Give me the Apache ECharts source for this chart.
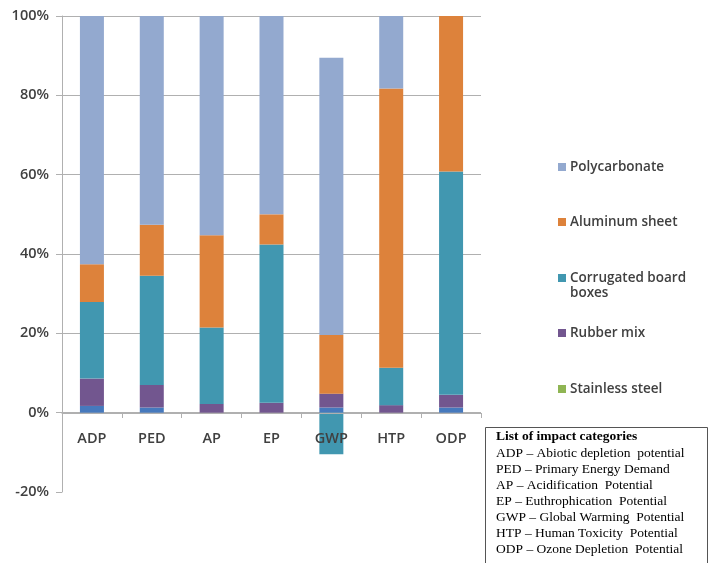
<!DOCTYPE html>
<html><head><meta charset="utf-8">
<script src="https://cdn.jsdelivr.net/npm/echarts@6/dist/echarts.min.js"></script>
<style>html,body{margin:0;padding:0;background:#fff}#c{width:709px;height:563px}</style>
</head><body><div id="c"></div>
<script>
const categories = ['ADP','PED','AP','EP','GWP','HTP','ODP'];
const other = [1.7, 1.3, 0, 0, 1.3, 0, 1.3];
const stainless = [0, 0, 0, 0, 0, 0, 0];
const rubber = [6.9, 5.7, 2.2, 2.5, 3.5, 1.9, 3.2];
const corrugated = [19.3, 27.5, 19.3, 39.9, -10.5, 9.4, 56.3];
const aluminum = [9.5, 12.9, 23.2, 7.6, 14.8, 70.4, 39.2];
const polycarbonate = [62.6, 52.6, 55.3, 50.0, 69.9, 18.3, 0];
const yTicks = [-20, 0, 20, 40, 60, 80, 100];
const listTitle = 'List of impact categories';
const listLines = [
  'ADP \u2013 Abiotic depletion  potential',
  'PED \u2013 Primary Energy Demand',
  'AP \u2013 Acidification  Potential',
  'EP \u2013 Euthrophication  Potential',
  'GWP \u2013 Global Warming  Potential',
  'HTP \u2013 Human Toxicity  Potential',
  'ODP \u2013 Ozone Depletion  Potential'
];

const colors = {
  Other: '#4679bd',
  'Stainless steel': '#8fb553',
  'Rubber mix': '#72568f',
  'Corrugated board boxes': '#4197b0',
  'Aluminum sheet': '#dd823b',
  'Polycarbonate': '#93a9cf'
};
const font = '"Open Sans", sans-serif';
const txtColor = '#404040';

function bar(name, data) {
  return {name, type: 'bar', stack: 'total', data, barWidth: 24,
    itemStyle: {color: colors[name]}, emphasis: {disabled: true}};
}

const legendNames = ['Polycarbonate','Aluminum sheet','Corrugated board boxes','Rubber mix','Stainless steel'];
const legendTops = [155, 210, 266, 321, 377];
const legends = legendNames.map((n, i) => ({
  data: [n], left: 553, top: legendTops[i], orient: 'vertical',
  itemWidth: 8, itemHeight: 8, itemGap: 0, icon: 'rect', selectedMode: false,
  formatter: n === 'Corrugated board boxes' ? () => 'Corrugated board' : undefined,
  textStyle: {fontFamily: font, fontSize: 13.5, color: txtColor, fontWeight: 600, padding: [0,0,0,-1]}
}));

const graphics = [
  {type: 'rect', shape: {x: 485.5, y: 427.5, width: 222, height: 140}, style: {fill: '#fff', stroke: '#555', lineWidth: 1}},
  {type: 'text', left: 570, top: 286, style: {text: 'boxes', font: '600 13.5px ' + font, fill: txtColor}},
  {type: 'text', left: 496, top: 430, style: {text: listTitle, font: 'bold 13.5px "Liberation Serif", serif', fill: '#000'}}
];
listLines.forEach((t, i) => graphics.push({type: 'text', left: 496, top: 446 + i * 16,
  style: {text: t, font: '13.5px "Liberation Serif", serif', fill: '#000'}}));

const chart = echarts.init(document.getElementById('c'), null, {renderer: 'canvas'});
chart.setOption({
  animation: false,
  backgroundColor: '#fff',
  grid: {left: 62, right: 228, top: 16, bottom: 71, containLabel: false},
  legend: legends,
  xAxis: {
    type: 'category', data: categories, position: 'bottom', offset: -79, z: 10,
    axisLine: {onZero: false, lineStyle: {color: '#b0b0b0', width: 1}},
    axisTick: {show: true, length: 5, lineStyle: {color: '#b0b0b0'}},
    axisLabel: {margin: 18, fontFamily: font, fontSize: 14.5, fontWeight: 600, color: txtColor},
    splitLine: {show: false}
  },
  yAxis: {
    type: 'value', min: -20, max: 100, interval: 20,
    axisLine: {show: true, lineStyle: {color: '#b0b0b0', width: 1}},
    axisTick: {show: true, length: 6, lineStyle: {color: '#b0b0b0'}},
    axisLabel: {formatter: v => v + '%', margin: 13, fontFamily: font, fontSize: 14.5, fontWeight: 600, color: txtColor},
    splitLine: {show: true, lineStyle: {color: ['rgba(0,0,0,0)', '#b0b0b0', '#b0b0b0', '#b0b0b0', '#b0b0b0', '#b0b0b0', '#b0b0b0'], width: 1}}
  },
  series: [
    bar('Other', other),
    bar('Stainless steel', stainless),
    bar('Rubber mix', rubber),
    bar('Corrugated board boxes', corrugated),
    bar('Aluminum sheet', aluminum),
    bar('Polycarbonate', polycarbonate)
  ],
  graphic: graphics
});
</script></body></html>
